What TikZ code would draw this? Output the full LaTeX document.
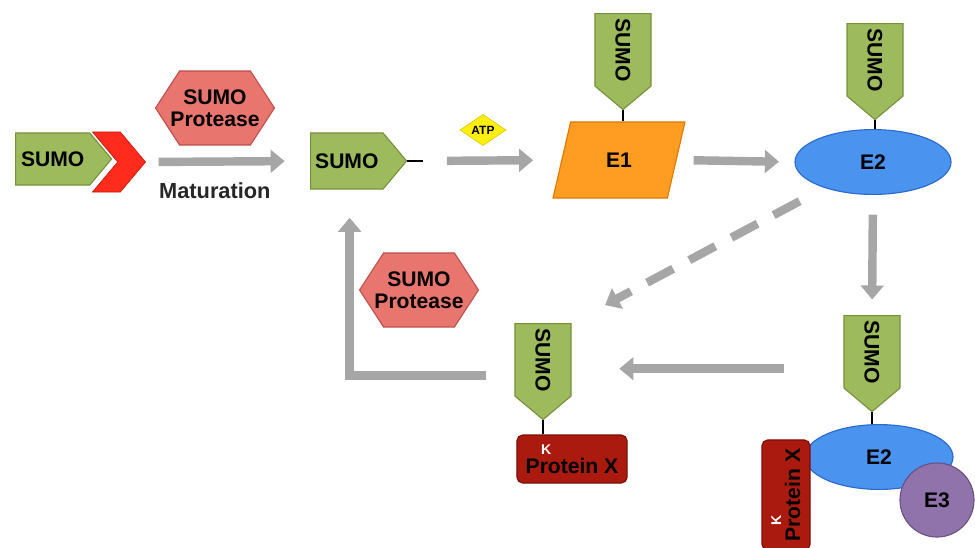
\documentclass[tikz,border=0pt]{standalone}
\usepackage{fontspec}
\setmainfont{Liberation Sans}
\usepackage{xcolor}
\definecolor{SumoGreen}{HTML}{9DBA5C}
\definecolor{SumoEdge}{HTML}{76923C}
\definecolor{TailRed}{HTML}{FF2B1C}
\definecolor{TailEdge}{HTML}{C8160A}
\definecolor{ProteaseRed}{HTML}{E8766E}
\definecolor{ProteaseEdge}{HTML}{C0504D}
\definecolor{AtpYellow}{HTML}{FFEE10}
\definecolor{AtpEdge}{HTML}{D8C400}
\definecolor{EoneOrange}{HTML}{FF9C22}
\definecolor{EoneEdge}{HTML}{E07A00}
\definecolor{EtwoBlue}{HTML}{4A93EE}
\definecolor{EtwoEdge}{HTML}{2A6ACC}
\definecolor{EthreePurple}{HTML}{8F73AA}
\definecolor{EthreeEdge}{HTML}{6A5084}
\definecolor{TargetRed}{HTML}{AA1A0E}
\definecolor{TargetEdge}{HTML}{7A0F08}
\definecolor{ArrowGray}{HTML}{A6A6A6}
\usetikzlibrary{arrows.meta,positioning,shapes.geometric,shapes.symbols}
\tikzset{
  sumotag/.style={
    signal,
    signal to=east,
    signal pointer angle=100,
    draw=SumoEdge,
    fill=SumoGreen,
    line width=0.8pt,
    minimum width=2.4cm,
    minimum height=1.4cm,
    inner sep=1pt,
    anchor=west,
    font=\fontsize{15}{15}\selectfont\bfseries
  },
  chevron/.style={
    signal,
    signal from=west,
    signal to=east,
    signal pointer angle=100,
    draw=TailEdge,
    fill=TailRed,
    inner sep=1pt,
    minimum width=0.5cm,
    minimum height=1.5cm
  },
  protease/.style={
    signal,
    signal to=east and west,
    signal pointer angle=114,
    draw=ProteaseEdge,
    fill=ProteaseRed,
    line width=0.8pt,
    inner xsep=-6.5pt,
    inner ysep=3pt,
    minimum height=1.85cm,
    align=center,
    font=\fontsize{15}{16}\selectfont\bfseries
  },
  atp/.style={
    diamond,
    draw=AtpEdge,
    fill=AtpYellow,
    inner sep=0pt,
    minimum width=1.15cm,
    minimum height=0.75cm,
    font=\fontsize{8.5}{9}\selectfont\bfseries
  },
  enzymeA/.style={
    trapezium,
    trapezium left angle=75,
    trapezium right angle=105,
    trapezium stretches=true,
    draw=EoneEdge,
    fill=EoneOrange,
    line width=0.8pt,
    minimum width=3.3cm,
    minimum height=1.9cm,
    font=\fontsize{15}{15}\selectfont\bfseries
  },
  enzymeB/.style={
    ellipse,
    draw=EtwoEdge,
    fill=EtwoBlue,
    line width=0.8pt,
    minimum width=3.9cm,
    minimum height=1.62cm,
    font=\fontsize{15}{15}\selectfont\bfseries
  },
  enzymeC/.style={
    circle,
    draw=EthreeEdge,
    fill=EthreePurple,
    line width=0.8pt,
    minimum size=1.85cm,
    font=\fontsize{15}{15}\selectfont\bfseries
  },
  protein/.style={
    rectangle,
    rounded corners=4pt,
    draw=TargetEdge,
    fill=TargetRed,
    line width=0.8pt,
    minimum width=2.75cm,
    minimum height=1.2cm,
    inner sep=2pt,
    align=left,
    font=\fontsize{15}{13.5}\selectfont\bfseries
  },
  flowarrow/.style={
    -{Triangle[length=10pt, width=16pt]},
    line width=6pt,
    draw=ArrowGray
  },
  bondline/.style={
    line width=1.4pt,
    draw=black
  }
}
\newcommand{\lysine}{{\color{white}\fontsize{10}{10}\selectfont\hspace*{1.1em}K}}

\begin{document}
\begin{tikzpicture}[x=0.025cm, y=-0.025cm]
\useasboundingbox (0,0) rectangle (975,547);
\clip (0,0) rectangle (975,547);
% maturation
\node[chevron] (tail) at (119,162) {};
\node[sumotag, minimum height=1.3cm] (tagfree) at (15,159) {SUMO};
\node[protease] (proteaseA) at (215,108) {SUMO\\Protease};
\node[sumotag] (tagmature) at (310,161) {SUMO};
\coordinate (glygly) at (423,161);
\node[atp] (atp) at (483,130) {ATP};
% activation and conjugation
\node[enzymeA] (e1) at (619,160) {E1};
\node[sumotag, rotate=-90] (tagE1) at (623,13) {SUMO};
\node[enzymeB] (e2) at (873,162) {E2};
\node[sumotag, rotate=-90] (tagE2) at (875,23) {SUMO};
% ligation
\node[sumotag, rotate=-90] (tagE3) at (872,315) {SUMO};
\node[enzymeB, minimum width=3.7cm] (e2b) at (879,457) {E2};
\node[enzymeC] (e3) at (937,500) {E3};
\node[protein, rotate=90] (targetB) at (786,495) {\lysine\\Protein X};
% product
\node[sumotag, rotate=-90] (tagX) at (543,323) {SUMO};
\node[protein] (targetA) at (572,459) {\lysine\\Protein X};
\node[protease] (proteaseB) at (419,290) {SUMO\\Protease};
% connectors
\draw[flowarrow, shorten <=9pt, shorten >=18pt] (tail.east) -- (tagmature.west)
  node[pos=0.42, below=9pt, font=\fontsize{15.5}{16}\selectfont\bfseries, text=black!85] (maturation) {Maturation};
\draw[bondline] (tagmature.east) -- (glygly);
\draw[flowarrow, shorten <=17pt, shorten >=20pt] (glygly) -- (e1.west);
\draw[flowarrow, shorten <=12pt, shorten >=11pt] (e1.east) -- (e2.west);
\draw[bondline] (tagE1.east) -- (tagE1.east |- e1.north);
\draw[bondline] (tagE2.east) -- (tagE2.east |- e2.north);
\draw[flowarrow, shorten <=14pt, shorten >=11pt] (e2.south) -- (tagE3.west);
\draw[flowarrow, dash pattern=on 21pt off 13pt, shorten <=20pt, shorten >=27pt] (e2) -- (tagX.north west);
\draw[flowarrow, shorten <=42pt, shorten >=34pt] ([yshift=-12pt]tagE3.south) -- ([yshift=-12pt]tagE3.south -| tagX.north);
\draw[bondline] (tagE3.east) -- (tagE3.east |- e2b.north);
\draw[bondline] (tagX.east) -- (tagX.east |- targetA.north);
\draw[flowarrow, shorten <=20pt, shorten >=20pt] ([yshift=-11pt]tagX.south) -| ([xshift=2pt]tagmature.south);
\end{tikzpicture}
\end{document}
